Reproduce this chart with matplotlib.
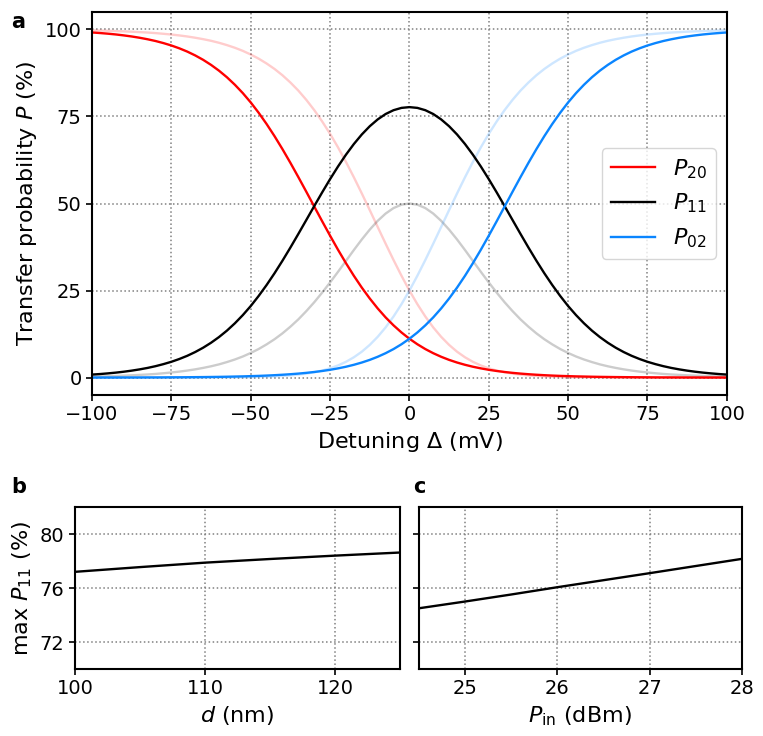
import matplotlib
matplotlib.use('Agg')
import matplotlib.pyplot as plt
import numpy as np

#### Data ####
detuning = np.arange(-100, 100.1, 2.5)

# solid curves (%)
P20 = [99.12, 98.96, 98.77, 98.55, 98.28, 97.97, 97.60, 97.17, 96.67, 96.07,
       95.38, 94.57, 93.63, 92.53, 91.27, 89.81, 88.15, 86.26, 84.11, 81.71,
       79.03, 76.06, 72.83, 69.34, 65.61, 61.68, 57.59, 53.40, 49.15, 44.92,
       40.76, 36.72, 32.87, 29.23, 25.84, 22.72, 19.87, 17.29, 15.00, 12.96,
       11.16, 9.58, 8.20, 7.01, 5.98, 5.09, 4.33, 3.68, 3.12, 2.65,
       2.24, 1.90, 1.61, 1.36, 1.15, 0.97, 0.82, 0.69, 0.58, 0.49,
       0.42, 0.35, 0.30, 0.25, 0.21, 0.18, 0.15, 0.13, 0.11, 0.09,
       0.08, 0.06, 0.05, 0.05, 0.04, 0.03, 0.03, 0.02, 0.02, 0.02, 0.01]
# P11 from -100 to 0 mV, the curve is symmetric about 0
P11_half = [0.87, 1.02, 1.21, 1.43, 1.69, 2.00, 2.36, 2.78, 3.28, 3.87,
            4.54, 5.34, 6.26, 7.34, 8.58, 10.01, 11.64, 13.49, 15.59, 17.94,
            20.55, 23.45, 26.59, 29.97, 33.57, 37.35, 41.26, 45.24, 49.24, 53.18,
            57.00, 60.63, 64.01, 67.09, 69.83, 72.19, 74.15, 75.70, 76.80, 77.46,
            77.68]
P11 = P11_half + P11_half[-2::-1]
P02 = P20[::-1]

# faded curves (%)
P20_f = [99.72, 99.66, 99.60, 99.52, 99.44, 99.34, 99.22, 99.10, 98.94, 98.74,
         98.53, 98.27, 97.97, 97.61, 97.20, 96.73, 96.16, 95.49, 94.73, 93.84,
         92.79, 91.60, 90.21, 88.64, 86.83, 84.75, 82.43, 79.78, 76.84, 73.58,
         70.01, 66.13, 61.95, 57.52, 52.88, 48.11, 43.27, 38.46, 33.76, 29.25,
         25.00, 21.09, 17.56, 14.42, 11.71, 9.39, 7.44, 5.84, 4.53, 3.49,
         2.67, 2.02, 1.52, 1.14, 0.85, 0.63, 0.47, 0.34, 0.25, 0.18,
         0.13, 0.10, 0.07, 0.05, 0.04, 0.03, 0.02, 0.01, 0.01, 0.01,
         0.01, 0.0, 0.0, 0.0, 0.0, 0.0, 0.0, 0.0, 0.0, 0.0, 0.0]
P11_f_half = [0.28, 0.34, 0.40, 0.48, 0.56, 0.66, 0.78, 0.90, 1.05, 1.25,
              1.47, 1.72, 2.02, 2.37, 2.78, 3.25, 3.80, 4.46, 5.20, 6.06,
              7.07, 8.21, 9.54, 11.02, 12.71, 14.62, 16.72, 19.08, 21.63, 24.40,
              27.33, 30.38, 33.51, 36.65, 39.68, 42.50, 45.02, 47.11, 48.69, 49.67,
              50.00]
P11_f = P11_f_half + P11_f_half[-2::-1]
P02_f = P20_f[::-1]

# panel b: max P11 vs d
d_nm = [100, 105, 110, 115, 120, 125]
maxP11_d = [77.2, 77.55, 77.88, 78.15, 78.4, 78.63]

# panel c: max P11 vs Pin
Pin = [24.5, 25, 25.5, 26, 26.5, 27, 27.5, 28]
maxP11_p = [74.5, 75.0, 75.52, 76.06, 76.58, 77.1, 77.63, 78.16]

red = '#ff0000'
blue = '#0a85ff'
fs_tick = 14
fs_lab = 16
lw = 1.7

plt.rcParams['font.size'] = fs_tick
plt.rcParams['axes.labelsize'] = fs_lab
plt.rcParams['axes.linewidth'] = 1.5
plt.rcParams['xtick.major.width'] = 1.2
plt.rcParams['ytick.major.width'] = 1.2
plt.rcParams['xtick.major.size'] = 4
plt.rcParams['ytick.major.size'] = 4

fig = plt.figure(figsize=(7.63, 7.36), dpi=100)

#### panel a ####
ax = fig.add_axes([0.1206, 0.4633, 0.832, 0.5204])
ax.plot(detuning, P20_f, color=red, alpha=0.2, lw=lw)
ax.plot(detuning, P11_f, color='black', alpha=0.2, lw=lw)
ax.plot(detuning, P02_f, color=blue, alpha=0.2, lw=lw)
ax.plot(detuning, P20, color=red, lw=lw, label=r'$P_{20}$')
ax.plot(detuning, P11, color='black', lw=lw, label=r'$P_{11}$')
ax.plot(detuning, P02, color=blue, lw=lw, label=r'$P_{02}$')
ax.set_xlim(-100, 100)
ax.set_ylim(-5, 105)
ax.set_xticks([-100, -75, -50, -25, 0, 25, 50, 75, 100])
ax.set_yticks([0, 25, 50, 75, 100])
ax.grid(True, ls=':', color='gray', lw=1.1)
ax.set_xlabel(r'Detuning $\Delta$ (mV)')
ax.set_ylabel(r'Transfer probability $P$ (%)')
ax.legend(loc='center right', fontsize=fs_lab)
fig.text(0.015, 0.962, 'a', fontsize=15, fontweight='bold')

#### panel b ####
axb = fig.add_axes([0.0983, 0.091, 0.426, 0.2201])
axb.plot(d_nm, maxP11_d, color='black', lw=lw)
axb.set_xlim(100, 125)
axb.set_ylim(70, 82)
axb.set_xticks([100, 110, 120])
axb.set_yticks([72, 76, 80])
axb.grid(True, ls=':', color='gray', lw=1.1)
axb.set_xlabel(r'$d$ (nm)')
axb.set_ylabel(r'max $P_{11}$ (%)')
fig.text(0.015, 0.330, 'b', fontsize=15, fontweight='bold')

#### panel c ####
axc = fig.add_axes([0.549, 0.091, 0.4233, 0.2201], sharey=axb)
axc.plot(Pin, maxP11_p, color='black', lw=lw)
axc.set_xlim(24.5, 28)
axc.set_xticks([25, 26, 27, 28])
axc.tick_params(labelleft=False)
axc.grid(True, ls=':', color='gray', lw=1.1)
axc.set_xlabel(r'$P_{\mathrm{in}}$ (dBm)')
fig.text(0.541, 0.330, 'c', fontsize=15, fontweight='bold')

plt.savefig('out.png', dpi=100)
